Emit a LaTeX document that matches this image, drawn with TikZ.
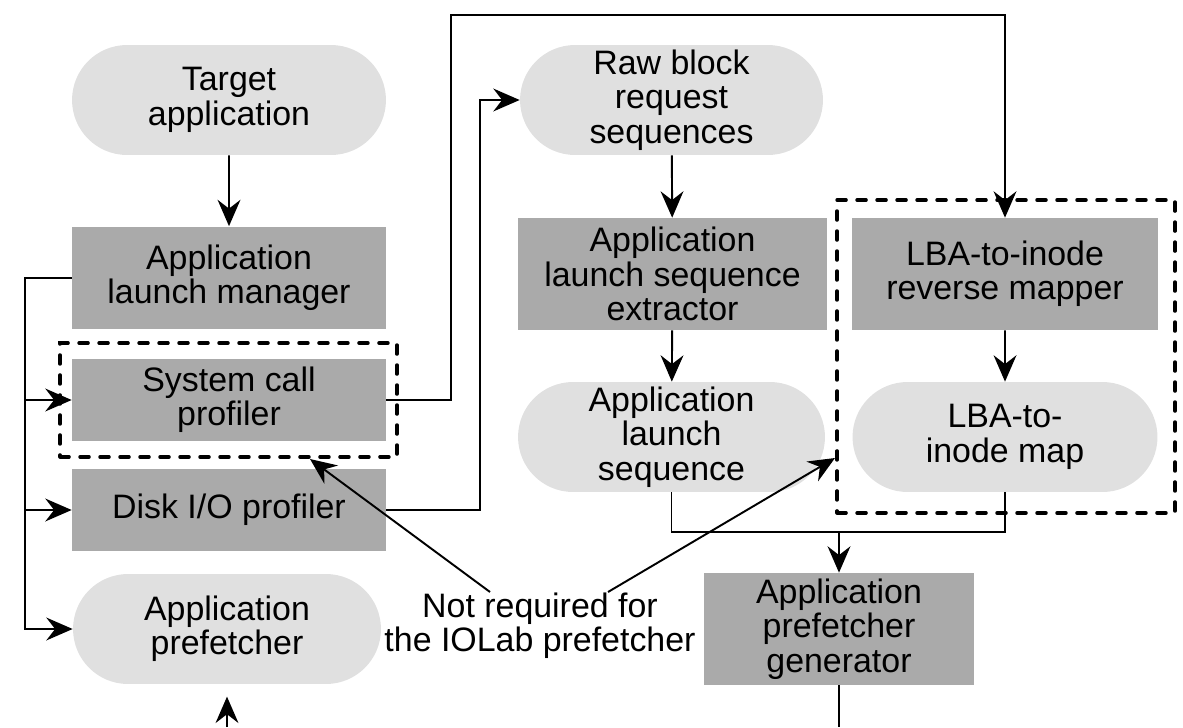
\documentclass[tikz,border=0pt]{standalone}
\usepackage{fontspec}
\setmainfont{Liberation Sans}
\usetikzlibrary{arrows.meta,shapes.misc,calc}
\definecolor{glight}{HTML}{E0E0E0}
\definecolor{gdark}{HTML}{AAAAAA}

\begin{document}
\begin{tikzpicture}[x=0.02cm, y=-0.02cm,
  every node/.style={font=\fontsize{19.3}{19.6}\selectfont, align=center, inner sep=0pt},
  datanode/.style={rounded rectangle, fill=glight},
  procnode/.style={rectangle, fill=gdark},
  grpbox/.style={draw, line width=0.07cm, dash pattern=on 0.18cm off 0.22cm, line cap=round},
  arr/.style={-{Stealth[length=15pt, width=13pt, inset=5pt]}, line width=1.1pt},
  wire/.style={line width=1.1pt}]
 \useasboundingbox (0,0) rectangle (1183,727);
 % left column
 \node[datanode, minimum width=6.28cm, minimum height=2.2cm] (tapp) at (229,100) {Target\\application};
 \node[procnode, minimum width=6.28cm, minimum height=2.06cm] (alm) at (229,278) {Application\\launch manager};
 \node[procnode, minimum width=6.28cm, minimum height=1.64cm] (scp) at (229,400) {System call\\profiler};
 \node[procnode, minimum width=6.28cm, minimum height=1.64cm] (dio) at (229,510) {Disk I/O profiler};
 \node[datanode, minimum width=6.16cm, minimum height=2.2cm] (apf) at (227,629) {Application\\prefetcher};
 \node[grpbox, minimum width=6.74cm, minimum height=2.28cm] (scpgrp) at (228.5,400) {};
 % middle column
 \node[datanode, minimum width=6.06cm, minimum height=2.2cm] (raw) at (671.5,100) {Raw block\\request\\sequences};
 \node[procnode, minimum width=6.18cm, minimum height=2.24cm] (ext) at (672.5,274) {Application\\launch sequence\\extractor};
 \node[datanode, minimum width=6.14cm, minimum height=2.2cm] (als) at (671.5,437) {Application\\launch\\sequence};
 % right column
 \node[procnode, minimum width=6.14cm, minimum height=2.24cm] (rev) at (1005,274) {LBA-to-inode\\reverse mapper};
 \node[datanode, minimum width=6.10cm, minimum height=2.2cm] (map) at (1005,437) {LBA-to-\\inode map};
 \node[grpbox, minimum width=6.76cm, minimum height=6.26cm] (mapgrp) at (1006,356.5) {};
 \node[procnode, minimum width=5.42cm, minimum height=2.24cm] (gen) at (839,629) {Application\\prefetcher\\generator};
 \node (note) at (540,626) {Not required for\\the IOLab prefetcher};
 % helper points
 \coordinate (bus) at (25,278);
 \coordinate (top) at (451,15);
 \coordinate (mid) at (480,100);
 \coordinate (join) at (839,532);
 \coordinate (apfin) at (227,727);
 \coordinate (genout) at (839,727);
 \coordinate (n1) at (490,592);
 \coordinate (n2) at (608,592);
 \coordinate (scptip) at (310,459);
 \coordinate (maptip) at (835,458);
 % connectors
 \draw[arr] (tapp) -- (alm);
 \draw[arr] (raw) -- (ext);
 \draw[arr] (ext) -- (als);
 \draw[arr] (rev) -- (map);
 \draw[arr] (alm.west) -- (bus) |- (apf.west);
 \foreach \n in {scp,dio} \draw[arr] (bus |- \n.west) -- (\n.west);
 \draw[arr] (scp.east) -| (top) -| (rev.north);
 \draw[arr] (dio.east) -| (mid) -- (raw.west);
 \draw[wire] (als.south) |- (join) -| (map.south);
 \draw[arr] (join) -- (gen.north);
 \draw[wire] (gen.south) -- (genout);
 \draw[arr, shorten >=7pt] (apfin) -- (apf.south);
 \draw[arr] (n1) -- (scptip);
 \draw[arr] (n2) -- (maptip);
\end{tikzpicture}
\end{document}
